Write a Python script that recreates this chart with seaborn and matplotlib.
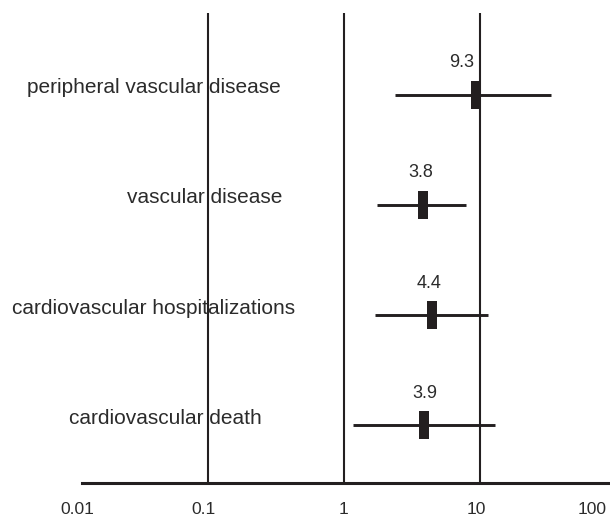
import numpy as np
import pandas as pd
import matplotlib
matplotlib.use("Agg")
import matplotlib.pyplot as plt
import matplotlib.transforms as mtransforms
import seaborn as sns

# ---- data ----
outcomes = ["peripheral vascular disease", "vascular disease",
            "cardiovascular hospitalizations", "cardiovascular death"]
hazard_ratio = [9.3, 3.8, 4.4, 3.9]
ci_low = [2.37, 1.75, 1.70, 1.17]
ci_high = [33.3, 7.9, 11.4, 12.8]
tick_values = [0.01, 0.1, 1, 10, 100]
tick_labels = ["0.01", "0.1", "1", "10", "100"]
ref_lines = [0.1, 1, 10]

# ---- layout (pixels) ----
W, H, DPI = 610, 518, 100
label_right_px = [281, 282, 295, 262]
value_label_shift_px = [-14, -2, -2, 0]
tick_label_shift_px = [5, -4.5, -1, -4, -24]

sns.set_theme(style="white")
plt.rcParams["font.family"] = ["Liberation Sans", "DejaVu Sans"]
INK = "#231f20"
TXT = "#2b2b2b"

df = pd.DataFrame({"outcome": outcomes, "hr": hazard_ratio,
                   "lo": ci_low, "hi": ci_high, "row": np.arange(len(outcomes))})

fig = plt.figure(figsize=(W / DPI, H / DPI), dpi=DPI)
ax_left, ax_right = 72, 616
ax_top, ax_bottom = 13, 483
ax = fig.add_axes([ax_left / W, 1 - ax_bottom / H,
                   (ax_right - ax_left) / W, (ax_bottom - ax_top) / H])
ax.set_xscale("log")
ax.set_xlim(0.01, 100)
ax.set_ylim(3.527, -0.745)

for v in ref_lines:
    ax.axvline(v, color=INK, lw=1.5, zorder=1)

ax.hlines(df["row"], df["lo"], df["hi"], color=INK, lw=2.1, zorder=2)

box = [(-0.1875, -0.5), (0.1875, -0.5), (0.1875, 0.5), (-0.1875, 0.5), (-0.1875, -0.5)]
sns.scatterplot(data=df, x="hr", y="row", marker=box, s=(28 * 72 / DPI) ** 2,
                color=INK, linewidth=0, zorder=3, ax=ax, legend=False)

# value labels above boxes
for r, v, dx in zip(df["row"], df["hr"], value_label_shift_px):
    tr = mtransforms.offset_copy(ax.transData, fig=fig, x=dx, y=32, units="dots")
    ax.text(v, r, f"{v:.1f}", transform=tr, ha="center", va="center",
            fontsize=13, color=TXT, zorder=4)

# outcome labels
for r, name, px in zip(df["row"], df["outcome"], label_right_px):
    trans = mtransforms.blended_transform_factory(ax.transAxes, ax.transData)
    tr = mtransforms.offset_copy(trans, fig=fig, x=0, y=7, units="dots")
    ax.text((px - ax_left) / (ax_right - ax_left), r, name, transform=tr,
            ha="right", va="center", fontsize=15, color=TXT, zorder=4)

# axes styling
for s in ["top", "right", "left"]:
    ax.spines[s].set_visible(False)
ax.spines["bottom"].set_color(INK)
ax.spines["bottom"].set_linewidth(2.2)
ax.spines["bottom"].set_bounds(0.0119, 100)
ax.set_yticks([])
ax.set_xticks(tick_values)
ax.set_xticklabels(tick_labels)
ax.xaxis.set_minor_locator(matplotlib.ticker.NullLocator())
ax.tick_params(axis="x", length=0, pad=13.5, labelsize=12.6, labelcolor=TXT)
for lab, dx in zip(ax.get_xticklabels(), tick_label_shift_px):
    lab.set_transform(lab.get_transform() +
                      mtransforms.ScaledTranslation(dx / DPI, 0, fig.dpi_scale_trans))
ax.set_xlabel("")
ax.set_ylabel("")
ax.patch.set_alpha(0)

fig.savefig("out.png", dpi=DPI, facecolor="white")
